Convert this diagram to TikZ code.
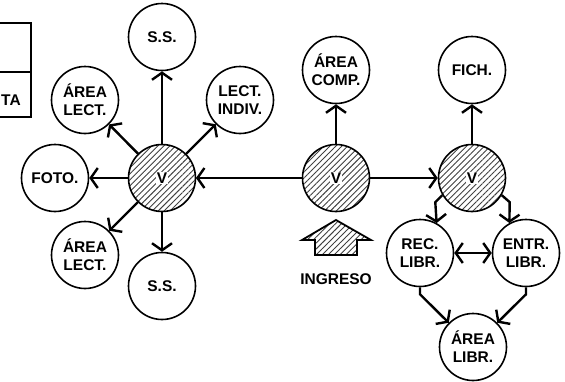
\documentclass[tikz,border=0pt]{standalone}
\usepackage{fontspec}
\setmainfont{Liberation Sans}
\usetikzlibrary{arrows.meta,positioning,calc,patterns.meta}

\begin{document}
\begin{tikzpicture}[
x=1pt,y=-1pt,
>={Straight Barb[length=7pt,width=20pt]},
nd/.style={circle,draw,line width=1.6pt,minimum size=67pt,inner sep=0pt,align=center,font=\fontsize{15.5}{18}\selectfont\bfseries},
vnd/.style={nd,pattern={Lines[angle=45,distance=4.2pt,line width=0.9pt]},pattern color=black!75},
vlab/.style={fill=white,inner sep=1pt,font=\fontsize{15.5}{18}\selectfont\bfseries},
edge/.style={->,line width=2.4pt},
term/.style={font=\fontsize{15.5}{18}\selectfont\bfseries}
]
\useasboundingbox (0,0) rectangle (565,381);
\draw[line width=1.6pt] (-5,23) -| (31,117) -- (-5,117);
\draw[line width=1.6pt] (-5,72) -- (31,72);
\node[term,anchor=west,inner sep=0pt] (ta) at (1,100) {TA};
\node[vnd] (vL) at (162,178) {};
\node[vlab] (vLt) at (vL) {V};
\node[vnd] (vC) at (336,178) {};
\node[vlab] (vCt) at (vC) {V};
\node[vnd] (vR) at (472,178) {};
\node[vlab] (vRt) at (vR) {V};
\node[nd] (ss1) at (162,37) {S.S.};
\node[nd] (lind) at (240,100) {LECT.\\INDIV.};
\node[nd] (alec1) at (85,100) {ÁREA\\LECT.};
\node[nd] (foto) at (55,178) {FOTO.};
\node[nd] (alec2) at (85,255) {ÁREA\\LECT.};
\node[nd] (ss2) at (162,286) {S.S.};
\node[nd] (acomp) at (336,70) {ÁREA\\COMP.};
\node[nd] (fich) at (472,70) {FICH.};
\node[nd] (rec) at (420,253) {REC.\\LIBR.};
\node[nd] (entr) at (526,253) {ENTR.\\LIBR.};
\node[nd] (alib) at (473,347) {ÁREA\\LIBR.};
\draw[edge] (vC) -- (vL);
\draw[edge] (vC) -- (vR);
\draw[edge] (vL) -- (ss1);
\draw[edge] (vL) -- (lind);
\draw[edge] (vL) -- (alec1);
\draw[edge] (vL) -- (foto);
\draw[edge] (vL) -- (alec2);
\draw[edge] (vL) -- (ss2);
\draw[edge] (vC) -- (acomp);
\draw[edge] (vR) -- (fich);
\draw[edge] (vR.210) -- ++(-7,7) -- (rec.61);
\draw[edge] (vR.330) -- ++(8,7) -- (entr.119);
\draw[edge,<->] (rec) -- (entr);
\draw[edge] (rec.south) -- ++(0,7) -- (alib.135);
\draw[edge] (entr.south) -- ++(0,7) -- (alib.45);
\draw[line width=1.8pt,pattern={Lines[angle=45,distance=4.2pt,line width=0.9pt]},pattern color=black!75]
  (315,255) -- (315,240) -- (302,240) -- (336,220) -- (371,240) -- (357,240) -- (357,255) -- cycle;
\node[term] (ing) at (336,279) {INGRESO};
\end{tikzpicture}
\end{document}
